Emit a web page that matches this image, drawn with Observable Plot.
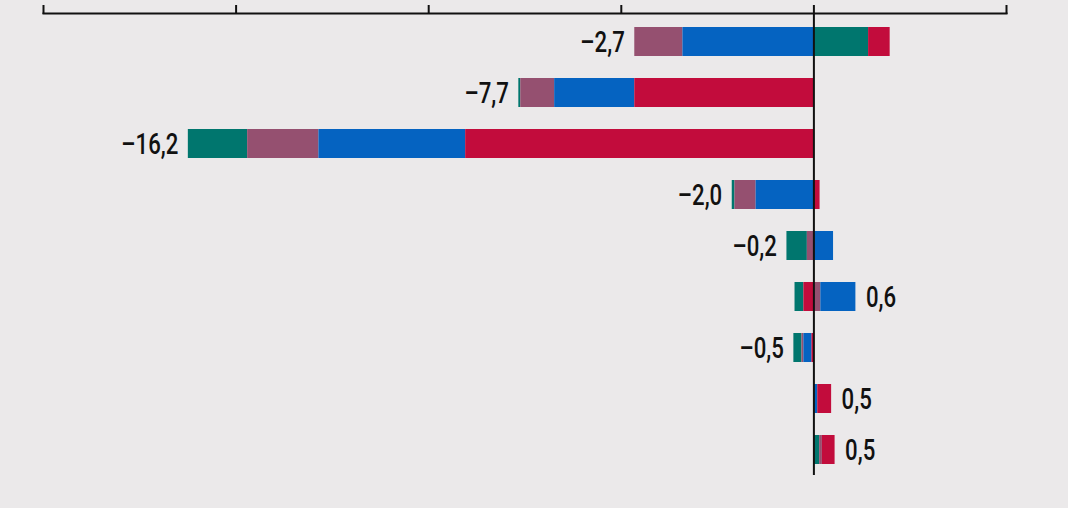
<!DOCTYPE html>
<html>
<head>
<meta charset="utf-8">
<script src="https://cdn.jsdelivr.net/npm/d3@7"></script>
<script src="https://cdn.jsdelivr.net/npm/@observablehq/plot@0.6"></script>
<style>
  html, body { margin: 0; padding: 0; background: #EBE9EA; }
  #chart { width: 1068px; height: 508px; overflow: hidden; }
</style>
</head>
<body>
<div id="chart"></div>
<script>
// Rows (category names are cut off in the reference)
const rows = ["Row 1", "Row 2", "Row 3", "Row 4", "Row 5", "Row 6", "Row 7", "Row 8", "Row 9"];
// Series names and colours
const series = ["Teal", "Mauve", "Blue", "Crimson"];
const seriesColors = ["#00766E", "#955070", "#0563C1", "#C20C3C"];
// Component values per row
const teal    = [ 1.42, -0.05, -1.54, -0.07, -0.53, -0.23, -0.21, 0.00, 0.15];
const mauve   = [-1.25, -0.88, -1.85, -0.55, -0.17,  0.18, -0.05, 0.00, 0.07];
const blue    = [-3.40, -2.08, -3.81, -1.50,  0.51,  0.91, -0.21, 0.10, 0.00];
const crimson = [ 0.56, -4.65, -9.04,  0.16,  0.00, -0.26, -0.05, 0.36, 0.33];
// Net totals (labels)
const totals = [-2.7, -7.7, -16.2, -2.0, -0.2, 0.6, -0.5, 0.5, 0.5];
// Axis ticks
const xTicks = [-20, -15, -10, -5, 0, 5];

const valuesBySeries = [teal, mauve, blue, crimson];
const data = [];
rows.forEach((r, i) => {
  series.forEach((s, j) => {
    const v = valuesBySeries[j][i];
    if (v !== 0) data.push({row: r, series: s, value: v});
  });
});

const labels = rows.map((r, i) => {
  const pos = d3.sum(valuesBySeries, a => Math.max(0, a[i]));
  const neg = d3.sum(valuesBySeries, a => Math.min(0, a[i]));
  const t = totals[i];
  const txt = (t < 0 ? "\u2013" : "") + Math.abs(t).toFixed(1).replace(".", ",");
  return {row: r, x: t < 0 ? neg : pos, text: txt, neg: t < 0};
});

const font = "Roboto, 'DejaVu Sans Condensed', sans-serif";

const chart = Plot.plot({
  width: 1068,
  height: 508,
  marginTop: 13,
  marginBottom: 33,
  marginLeft: 43,
  marginRight: 62,
  style: {background: "#EBE9EA", fontFamily: font, overflow: "visible"},
  x: {domain: [-20, 5]},
  y: {domain: rows, range: [13.57, 476.7], paddingInner: 0.44, paddingOuter: 0.22, axis: null},
  color: {domain: series, range: seriesColors},
  marks: [
    Plot.barX(data.filter(d => d.value > 0), {x: "value", y: "row", fill: "series", order: series}),
    Plot.barX(data.filter(d => d.value < 0), {x: "value", y: "row", fill: "series", order: series.slice().reverse()}),
    Plot.ruleX([0], {stroke: "#111", strokeWidth: 2}),
    Plot.axisX({anchor: "top", ticks: xTicks, tickSize: 9, tickFormat: () => "", strokeWidth: 2, stroke: "#111", label: null}),
    Plot.frame({anchor: "top", stroke: "#111", strokeWidth: 2}),
    Plot.text(labels.filter(d => d.neg), {x: "x", y: "row", text: "text", textAnchor: "end", dx: -10, fontSize: 30, fill: "#111", fontWeight: 500, className: "netlabel"}),
    Plot.text(labels.filter(d => !d.neg), {x: "x", y: "row", text: "text", textAnchor: "start", dx: 10, fontSize: 30, fill: "#111", fontWeight: 500, className: "netlabel"})
  ]
});
// Condense the label glyphs horizontally around their anchor point
chart.querySelectorAll(".netlabel text").forEach(t => {
  const tr = t.getAttribute("transform");
  if (tr) {
    t.setAttribute("transform", tr + " scale(0.74,1)");
  } else {
    const x = +t.getAttribute("x") || 0, y = +t.getAttribute("y") || 0;
    t.removeAttribute("x"); t.removeAttribute("y");
    t.setAttribute("transform", `translate(${x},${y}) scale(0.74,1)`);
  }
});
document.getElementById("chart").appendChild(chart);
</script>
</body>
</html>
